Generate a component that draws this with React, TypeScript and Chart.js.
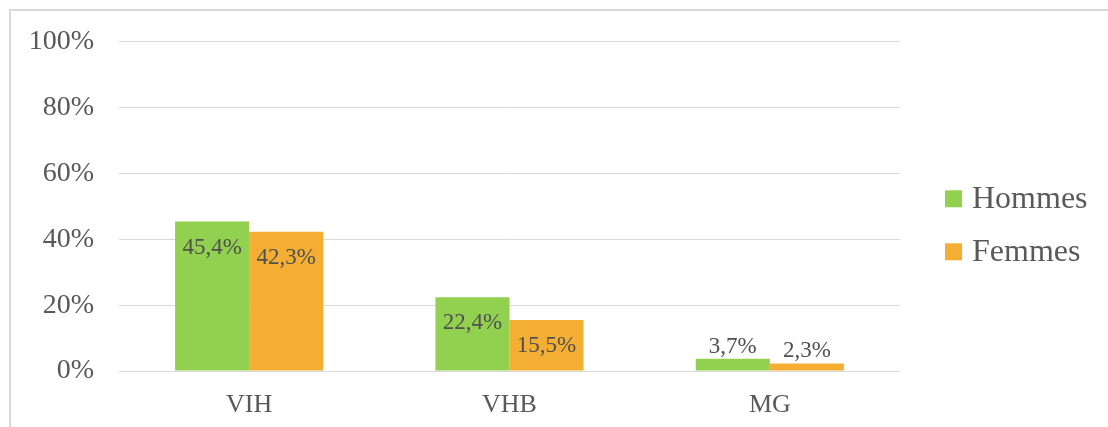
import React, { useEffect, useRef } from "react";
import { Chart, registerables } from "chart.js";

Chart.register(...registerables);

const categories = ["VIH", "VHB", "MG"];
const seriesNames = ["Hommes", "Femmes"];
const hommes = [45.4, 22.4, 3.7];
const femmes = [42.3, 15.5, 2.3];
const yTicks = [0, 20, 40, 60, 80, 100];

const FONT = "'Liberation Serif', 'Times New Roman', serif";
const GREEN = "#92D050";
const ORANGE = "#F4AE33";

const fmt = (v: number) => v.toFixed(1).replace(".", ",") + "%";

const dataLabelPlugin = {
  id: "dataLabels",
  afterDatasetsDraw(chart: any) {
    const ctx = chart.ctx;
    ctx.save();
    ctx.font = `23px ${FONT}`;
    ctx.fillStyle = "#505050";
    ctx.textAlign = "center";
    ctx.textBaseline = "middle";
    chart.data.datasets.forEach((ds: any, di: number) => {
      const meta = chart.getDatasetMeta(di);
      meta.data.forEach((bar: any, i: number) => {
        const v = ds.data[i];
        const h = bar.base - bar.y;
        const y = h > 45 ? bar.y + 26 : bar.y - 12;
        ctx.fillText(fmt(v), bar.x, y);
      });
    });
    ctx.restore();
  },
};

const legendPlugin = {
  id: "customLegend",
  afterDraw(chart: any) {
    const ctx = chart.ctx;
    const area = chart.chartArea;
    ctx.save();
    ctx.font = `32px ${FONT}`;
    ctx.textBaseline = "middle";
    ctx.textAlign = "left";
    chart.data.datasets.forEach((ds: any, i: number) => {
      const cy = area.top + 157 + i * 53;
      const x = area.right + 45;
      ctx.fillStyle = ds.backgroundColor;
      ctx.fillRect(x, cy - 8.5, 17, 17);
      ctx.fillStyle = "#595959";
      ctx.fillText(ds.label, x + 27, cy + 1);
    });
    ctx.restore();
  },
};

export default function App() {
  const ref = useRef<HTMLCanvasElement>(null);
  useEffect(() => {
    if (!ref.current) return;
    const chart = new Chart(ref.current, {
      type: "bar",
      data: {
        labels: categories,
        datasets: [
          { label: seriesNames[0], data: hommes, backgroundColor: GREEN },
          { label: seriesNames[1], data: femmes, backgroundColor: ORANGE },
        ],
      },
      options: {
        responsive: false,
        animation: false,
        layout: { padding: { left: 0, top: 39.5, right: 208, bottom: 0 } },
        plugins: { legend: { display: false }, tooltip: { enabled: false } },
        datasets: { bar: { categoryPercentage: 0.569, barPercentage: 1 } },
        scales: {
          x: {
            grid: { display: false, drawTicks: false },
            border: { display: false },
            ticks: {
              padding: 19,
              color: "#595959",
              font: { family: FONT, size: 26 },
            },
            afterFit: (s: any) => {
              s.height = 56;
            },
          },
          y: {
            min: 0,
            max: 100,
            afterBuildTicks: (s: any) => {
              s.ticks = yTicks.map((v) => ({ value: v }));
            },
            grid: { color: "#D9D9D9", lineWidth: 1, drawTicks: false },
            border: { display: false },
            ticks: {
              padding: 25,
              color: "#595959",
              font: { family: FONT, size: 28 },
              callback: (v: any) => v + "%",
            },
            afterFit: (s: any) => {
              s.width = 119;
            },
          },
        },
      },
      plugins: [dataLabelPlugin, legendPlugin],
    });
    return () => chart.destroy();
  }, []);

  return (
    <div
      style={{
        position: "fixed",
        left: 0,
        top: 0,
        width: 1108,
        height: 427,
        background: "#fff",
        overflow: "hidden",
      }}
    >
      <div
        style={{
          position: "absolute",
          left: 9,
          top: 9,
          width: 1300,
          height: 600,
          borderLeft: "2px solid #D9D9D9",
          borderTop: "2px solid #D9D9D9",
        }}
      />
      <canvas
        ref={ref}
        width={1108}
        height={427}
        style={{ position: "absolute", left: 0, top: 0, width: 1108, height: 427 }}
      />
    </div>
  );
}
